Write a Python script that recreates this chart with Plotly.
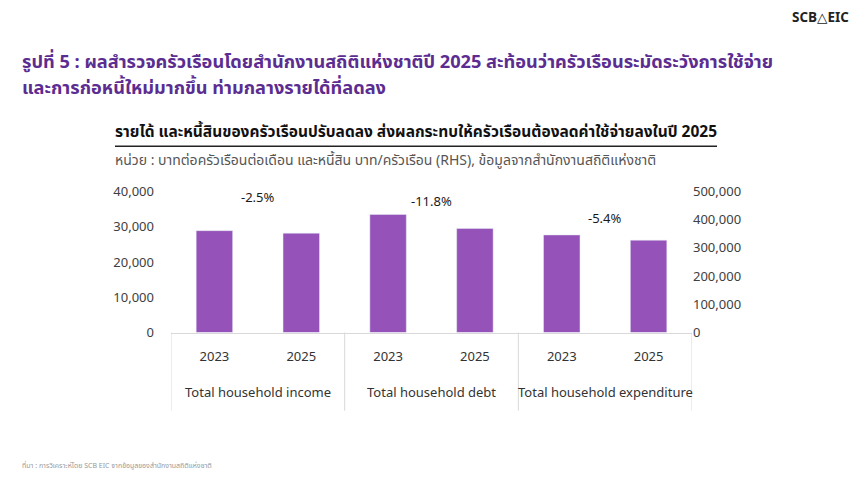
import plotly.graph_objects as go

group_names = ["Total household income", "Total household debt", "Total household expenditure"]
years = ["2023", "2025"]

income = [28860, 28140]          # baht / household / month (LHS)
debt = [418000, 368700]          # baht / household (RHS)
expenditure = [27650, 26160]     # baht / household / month (LHS)
changes = ["-2.5%", "-11.8%", "-5.4%"]
change_y = [38200, 37000, 32200]

left_ticks = [0, 10000, 20000, 30000, 40000]
right_ticks = [0, 100000, 200000, 300000, 400000, 500000]

BAR = "#9552B8"
PURPLE = "#5C2D91"
FONT = "Noto Sans Thai, Noto Sans, DejaVu Sans, sans-serif"

keys = [f"{g}|{y}" for g in group_names for y in years]
ticktext = [y for g in group_names for y in years]

fig = go.Figure()
fig.add_trace(go.Bar(x=keys[0:2], y=income, marker_color=BAR,
                     width=0.42, yaxis="y", showlegend=False))
fig.add_trace(go.Bar(x=keys[2:4], y=debt, marker_color=BAR,
                     width=0.42, yaxis="y2", showlegend=False))
fig.add_trace(go.Bar(x=keys[4:6], y=expenditure, marker_color=BAR,
                     width=0.42, yaxis="y", showlegend=False))


def PY(px):
    # page pixel (as seen in the screenshot) -> paper fraction
    return 1 - ((px - 9) / 0.957) / 484


def PX(px):
    return px / 860


annotations = []
for i, (t, yv) in enumerate(zip(changes, change_y)):
    annotations.append(dict(x=2 * i + 0.5, y=yv, xref="x", yref="y", text=t,
                            showarrow=False, font=dict(size=13, color="#1a1a1a")))
for i, g in enumerate(group_names):
    annotations.append(dict(x=2 * i + 0.5, y=PY(392), xref="x", yref="paper", text=g,
                            showarrow=False, yanchor="middle",
                            font=dict(size=13, color="#333333")))

annotations += [
    dict(x=PX(20), y=PY(62), xref="paper", yref="paper", xanchor="left",
         yanchor="middle", showarrow=False,
         text="<b>รูปที่ 5 : ผลสำรวจครัวเรือนโดยสำนักงานสถิติแห่งชาติปี 2025 สะท้อนว่าครัวเรือนระมัดระวังการใช้จ่าย</b>",
         font=dict(size=18.2, color=PURPLE)),
    dict(x=PX(20), y=PY(88), xref="paper", yref="paper", xanchor="left",
         yanchor="middle", showarrow=False,
         text="<b>และการก่อหนี้ใหม่มากขึ้น ท่ามกลางรายได้ที่ลดลง</b>",
         font=dict(size=18.2, color=PURPLE)),
    dict(x=PX(113), y=PY(132), xref="paper", yref="paper", xanchor="left",
         yanchor="middle", showarrow=False,
         text="<b>รายได้ และหนี้สินของครัวเรือนปรับลดลง ส่งผลกระทบให้ครัวเรือนต้องลดค่าใช้จ่ายลงในปี 2025</b>",
         font=dict(size=15.5, color="#111111")),
    dict(x=PX(113), y=PY(160), xref="paper", yref="paper", xanchor="left",
         yanchor="middle", showarrow=False,
         text="หน่วย : บาทต่อครัวเรือนต่อเดือน และหนี้สิน บาท/ครัวเรือน (RHS), ข้อมูลจากสำนักงานสถิติแห่งชาติ",
         font=dict(size=14, color="#555555")),
    dict(x=PX(20), y=PY(465), xref="paper", yref="paper", xanchor="left",
         yanchor="middle", showarrow=False,
         text="ที่มา : การวิเคราะห์โดย SCB EIC จากข้อมูลของสำนักงานสถิติแห่งชาติ",
         font=dict(size=7, color="#999999")),
    dict(x=PX(851), y=PY(18), xref="paper", yref="paper", xanchor="right",
         yanchor="middle", showarrow=False,
         text="<b>SCB△EIC</b>", font=dict(size=13.5, color="#222222")),
]

shapes = [dict(type="line", xref="paper", yref="paper",
               x0=PX(115), x1=PX(717), y0=PY(146), y1=PY(146),
               line=dict(color="#222222", width=1.5))]
for xb in [-0.5, 1.5, 3.5, 5.5]:
    shapes.append(dict(type="line", xref="x", yref="paper", x0=xb, x1=xb,
                       y0=PY(332), y1=PY(410), line=dict(color="#d9d9d9", width=1)))

fig.update_layout(
    width=860, height=484,
    margin=dict(l=0, r=0, t=0, b=0),
    paper_bgcolor="white", plot_bgcolor="white",
    font=dict(family=FONT, color="#404040"),
    xaxis=dict(domain=[PX(171), PX(692)], type="category", range=[-0.5, 5.5],
               tickvals=keys, ticktext=ticktext,
               showline=True, linecolor="#d9d9d9", linewidth=1,
               tickfont=dict(size=13, color="#333333"), ticks="",
               ticklabelstandoff=12),
    yaxis=dict(domain=[PY(332), PY(191)], range=[0, 40000],
               tickvals=left_ticks, tickformat=",", showgrid=False,
               zeroline=False, showline=False,
               tickfont=dict(size=13, color="#404040"), ticklabelstandoff=16),
    yaxis2=dict(overlaying="y", side="right", range=[0, 500000],
                tickvals=right_ticks, tickformat=",", showgrid=False,
                zeroline=False, showline=False,
                tickfont=dict(size=13, color="#404040")),
    annotations=annotations,
    shapes=shapes,
)

fig.write_html("out.html", config={"displayModeBar": False},
               post_script="document.body.style.margin='0px';")
